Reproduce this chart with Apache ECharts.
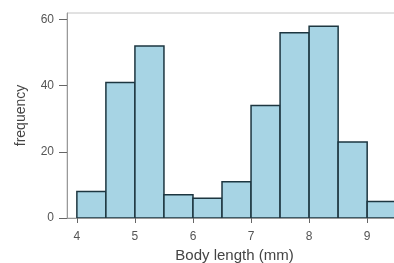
<!DOCTYPE html>
<html>
<head>
<meta charset="utf-8">
<script src="https://cdn.jsdelivr.net/npm/echarts@6/dist/echarts.min.js"></script>
<style>
html,body{margin:0;padding:0;background:#fff;}
#main{width:394px;height:263px;}
</style>
</head>
<body>
<div id="main"></div>
<script>
// bin starts (mm), bin width 0.5
var binStarts = [4, 4.5, 5, 5.5, 6, 6.5, 7, 7.5, 8, 8.5, 9];
var counts = [8, 41, 52, 7, 6, 11, 34, 56, 58, 23, 5];
var binWidth = 0.5;
var xTicks = [4, 5, 6, 7, 8, 9];
var yTicks = [0, 20, 40, 60];

var data = [];
for (var i = 0; i < binStarts.length; i++) {
	data.push([binStarts[i], binStarts[i] + binWidth, counts[i]]);
}

var myChart = echarts.init(document.getElementById('main'));

var option = {
	animation: false,
	grid: {
		left: 67, top: 13, bottom: 45, right: -8,
		outerBoundsMode: 'none',
		show: true, borderColor: '#c4c4c4', borderWidth: 1
	},
	xAxis: {
		type: 'value', min: 3.83, max: 9.6,
		name: 'Body length (mm)', nameLocation: 'middle', nameGap: 30,
		nameTextStyle: { fontFamily: 'Liberation Sans', fontSize: 15, color: '#444' },
		axisLine: { show: true, lineStyle: { color: '#999' } },
		axisTick: { show: true, length: 5, customValues: xTicks, lineStyle: { color: '#666' } },
		axisLabel: { customValues: xTicks, margin: 13, fontFamily: 'Liberation Sans', fontSize: 12, color: '#555' },
		splitLine: { show: false }
	},
	yAxis: {
		type: 'value', min: 0, max: 62,
		name: 'frequency', nameLocation: 'middle', nameGap: 39, nameRotate: 90,
		nameTextStyle: { fontFamily: 'Liberation Sans', fontSize: 14, color: '#444' },
		axisLine: { show: true, lineStyle: { color: '#999' } },
		axisTick: { show: true, length: 8, customValues: yTicks, lineStyle: { color: '#666' } },
		axisLabel: { customValues: yTicks, margin: 13, fontFamily: 'Liberation Sans', fontSize: 12, color: '#555' },
		splitLine: { show: false }
	},
	series: [{
		type: 'custom',
		clip: true,
		data: data,
		encode: { x: [0, 1], y: 2 },
		renderItem: function(params, api) {
			var p0 = api.coord([api.value(0), 0]);
			var p1 = api.coord([api.value(1), api.value(2)]);
			return {
				type: 'rect',
				shape: { x: p0[0], y: p1[1], width: p1[0] - p0[0], height: p0[1] - p1[1] },
				style: { fill: '#a7d4e4', stroke: '#1d3640', lineWidth: 1.5 }
			};
		}
	}]
};

myChart.setOption(option);
</script>
</body>
</html>
